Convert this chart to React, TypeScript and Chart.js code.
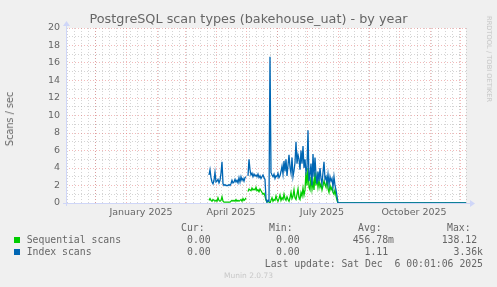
import React, { useEffect, useRef } from "react";
import { Chart, registerables } from "chart.js";

Chart.register(...registerables);

// ---------------- data ----------------
const titleText = "PostgreSQL scan types (bakehouse_uat) - by year";
const yAxisTitle = "Scans / sec";
const seriesNames = ["Sequential scans", "Index scans"];
const seriesColors = ["#00cc00", "#0066b3"];

// day offsets are counted from 2024-11-01
const dataStartDay = 144; // first daily value (2025-03-25)
const lastUpdateDay = 401; // right edge of the graph

const seqScans = [
  0.3, 0.5, 0.3, 0.2, 0.4, 0.3, 0.2, 0.3, 0.2, 0.6,
  0.3, 0.2, 0.3, 0.7, 0.2, 0.1, 0.1, 0.1, 0.1, 0.1,
  0.1, 0.1, 0.2, 0.3, 0.2, 0.3, 0.2, 0.4, 0.2, 0.3,
  0.2, 0.3, 0.4, 0.2, 0.5, 0.3, 0.4, 0.6, null, 1.3,
  1.6, 1.5, 1.4, 1.7, 1.5, 1.6, 1.5, 1.8, 1.4, 1.5,
  1.3, 1.6, 1.4, 1.2, 1.0, 1.1, 0.8, 0.3, 0.1, 0.2,
  0.1, 0.0, 0.3, 0.6, 0.2, 0.4, 0.3, 0.8, 0.4, 0.2,
  0.5, 0.9, 0.3, 0.6, 0.4, 1.0, 0.5, 0.3, 0.7, 0.4,
  0.2, 0.6, 1.2, 0.5, 0.8, 1.5, 0.6, 0.4, 1.0, 1.6,
  0.6, 0.4, 1.2, 0.8, 1.7, 0.9, 1.5, 3.5, 2.0, 4.0,
  1.8, 1.5, 3.0, 1.6, 2.5, 1.5, 3.5, 2.0, 3.0, 1.8,
  2.6, 1.8, 2.2, 1.5, 2.0, 2.5, 2.1, 1.8, 3.0, 1.6,
  1.2, 2.0, 1.5, 1.8, 1.2, 1.0, 1.5, 0.8, 0.3, 0.0,
];

const idxScans = [
  3.2, 3.8, 2.9, 2.4, 2.2, 2.6, 3.5, 2.4, 2.5, 2.7,
  2.3, 2.6, 3.4, 4.7, 2.2, 2.0, 2.1, 2.0, 2.0, 2.0,
  2.1, 2.0, 2.2, 2.6, 2.3, 2.4, 2.7, 2.4, 2.6, 2.3,
  2.9, 2.4, 3.0, 2.6, 2.8, 2.5, 2.9, 3.0, null, 3.1,
  5.0, 3.8, 3.2, 3.4, 3.0, 3.3, 3.1, 3.2, 3.0, 3.3,
  2.9, 3.1, 2.8, 3.0, 3.2, 2.9, 2.7, 0.5, 0.1, 0.3,
  0.2, 16.7, 3.5, 3.2, 3.0, 3.3, 2.8, 3.1, 3.0, 3.4,
  2.9, 3.1, 3.6, 4.2, 3.3, 4.8, 3.6, 5.0, 3.1, 4.3,
  5.5, 4.1, 3.4, 5.2, 3.0, 3.7, 4.6, 7.0, 4.5, 5.5,
  5.0, 3.8, 6.0, 4.5, 6.5, 4.0, 5.0, 3.5, 4.0, 8.3,
  2.5, 3.2, 4.5, 2.0, 5.6, 3.0, 5.2, 3.2, 2.2, 3.6,
  2.5, 4.0, 2.8, 2.2, 3.5, 4.7, 2.7, 3.0, 2.3, 3.3,
  2.1, 3.0, 2.5, 2.8, 1.8, 3.0, 2.0, 1.5, 0.8, 0.0,
];

const yMin = 0;
const yMax = 20;
const xTickLabels = ["January 2025", "April 2025", "July 2025", "October 2025"];
const xTickLabelMonths = [0, 3, 6, 9]; // months of 2025

const legendHeaders = ["Cur:", "Min:", "Avg:", "Max:"];
const curValues = ["0.00", "0.00"];
const minValues = ["0.00", "0.00"];
const avgValues = ["456.78m", "1.11"];
const maxValues = ["138.12", "3.36k"];
const lastUpdateText = "Last update: Sat Dec  6 00:01:06 2025";
const versionText = "Munin 2.0.73";
const watermarkText = "RRDTOOL / TOBI OETIKER";

// ---------------- helpers ----------------
const BASE = Date.UTC(2024, 10, 1);
const dayOf = (y: number, m: number, d: number) =>
  Math.round((Date.UTC(y, m, d) - BASE) / 864e5);

const FONT = "'DejaVu Sans', sans-serif";
const MONO = "'DejaVu Sans Mono', monospace";
const TEXT = "#666666";
const GRID_MINOR = "rgba(143,143,143,0.38)";
const GRID_MAJOR = "rgba(222,79,79,0.4)";
const AXIS = "#CFD6F8";

function buildXTicks() {
  const ticks: any[] = [];
  for (let d = 2; d <= lastUpdateDay; d += 7) ticks.push({ value: d, kind: "week" });
  for (let i = 1; i <= 13; i++) {
    const y = 2024 + Math.floor((10 + i) / 12);
    const m = (10 + i) % 12;
    ticks.push({ value: dayOf(y, m, 1), kind: "month" });
  }
  xTickLabelMonths.forEach((m, i) => {
    ticks.push({ value: dayOf(2025, m, 16), kind: "label", lbl: xTickLabels[i] });
  });
  return ticks;
}

const toPoints = (arr: (number | null)[]) => {
  const pts: any[] = arr.map((v, i) => ({ x: dataStartDay + i, y: v }));
  pts.push({ x: lastUpdateDay, y: 0 });
  return pts;
};

const muninPlugin = {
  id: "muninDecor",
  beforeDraw(chart: any) {
    const { ctx, chartArea: a } = chart;
    ctx.save();
    ctx.fillStyle = "#f0f0f0";
    ctx.fillRect(0, 0, chart.width, chart.height);
    ctx.fillStyle = "#ffffff";
    ctx.fillRect(a.left, a.top, a.right - a.left, a.bottom - a.top);
    ctx.restore();
  },
  beforeDatasetsDraw(chart: any) {
    const { ctx, chartArea: a } = chart;
    ctx.save();
    ctx.strokeStyle = AXIS;
    ctx.fillStyle = AXIS;
    ctx.lineWidth = 1;
    const yb = Math.round(a.bottom) + 0.5;
    const xl = Math.round(a.left) + 0.5;
    ctx.beginPath();
    ctx.moveTo(a.left - 3, yb);
    ctx.lineTo(a.right + 4, yb);
    ctx.moveTo(xl, a.bottom + 3);
    ctx.lineTo(xl, a.top - 2);
    ctx.stroke();
    // arrows
    ctx.beginPath();
    ctx.moveTo(a.right + 4, yb - 3.5);
    ctx.lineTo(a.right + 9, yb);
    ctx.lineTo(a.right + 4, yb + 3.5);
    ctx.closePath();
    ctx.fill();
    ctx.beginPath();
    ctx.moveTo(xl - 3.5, a.top - 2);
    ctx.lineTo(xl, a.top - 7);
    ctx.lineTo(xl + 3.5, a.top - 2);
    ctx.closePath();
    ctx.fill();
    ctx.restore();
  },
};

const abs = (extra: React.CSSProperties): React.CSSProperties => ({
  position: "absolute",
  whiteSpace: "pre",
  margin: 0,
  ...extra,
});

export default function App() {
  const canvasRef = useRef<HTMLCanvasElement>(null);

  useEffect(() => {
    document.body.style.margin = "0";
    document.body.style.background = "#f0f0f0";
    const canvas = canvasRef.current;
    if (!canvas) return;
    const chart = new Chart(canvas, {
      type: "line",
      data: {
        datasets: [
          {
            label: seriesNames[1],
            data: toPoints(idxScans),
            borderColor: seriesColors[1],
            backgroundColor: seriesColors[1],
            borderWidth: 1.3,
            pointRadius: 0,
            tension: 0,
            spanGaps: false,
            order: 0,
          },
          {
            label: seriesNames[0],
            data: toPoints(seqScans),
            borderColor: seriesColors[0],
            backgroundColor: seriesColors[0],
            borderWidth: 1.3,
            pointRadius: 0,
            tension: 0,
            spanGaps: false,
            order: 1,
          },
        ],
      },
      options: {
        animation: false,
        responsive: false,
        devicePixelRatio: 1,
        events: [],
        layout: { padding: { left: 0, top: 28, right: 31, bottom: 0 } },
        plugins: {
          legend: { display: false },
          title: { display: false },
          tooltip: { enabled: false },
        },
        scales: {
          x: {
            type: "linear",
            min: 1,
            max: lastUpdateDay,
            afterFit: (s: any) => {
              s.height = 84;
            },
            afterBuildTicks: (s: any) => {
              s.ticks = buildXTicks();
            },
            grid: {
              drawTicks: false,
              lineWidth: 1,
              color: (c: any) =>
                c.tick && c.tick.kind === "month"
                  ? GRID_MAJOR
                  : c.tick && c.tick.kind === "week"
                  ? GRID_MINOR
                  : "rgba(0,0,0,0)",
            },
            border: { display: false, dash: [1, 2] },
            ticks: {
              autoSkip: false,
              maxRotation: 0,
              minRotation: 0,
              padding: 4,
              color: TEXT,
              font: { family: FONT, size: 9.5 },
              callback: (_v: any, i: number, ticks: any[]) =>
                ticks[i] && ticks[i].lbl ? ticks[i].lbl : "",
            },
          },
          y: {
            type: "linear",
            min: yMin,
            max: yMax,
            afterFit: (s: any) => {
              s.width = 66;
            },
            grid: {
              drawTicks: false,
              lineWidth: 1,
              color: (c: any) =>
                c.tick && c.tick.value % 2 === 0 ? GRID_MAJOR : GRID_MINOR,
            },
            border: { display: false, dash: [1, 2] },
            ticks: {
              stepSize: 1,
              autoSkip: false,
              padding: 6,
              color: TEXT,
              font: { family: FONT, size: 9.5 },
              callback: (v: any) => (Number(v) % 2 === 0 ? String(v) : ""),
            },
          },
        },
      },
      plugins: [muninPlugin],
    } as any);
    return () => chart.destroy();
  }, []);

  const legendRows = [0, 1];
  const rowCenters = [239.5, 252];
  const colLeft = { cur: 187, min: 276 };

  return (
    <div
      style={{
        position: "relative",
        width: 497,
        height: 287,
        background: "#f0f0f0",
        overflow: "hidden",
        fontFamily: FONT,
        color: TEXT,
      }}
    >
      <canvas
        ref={canvasRef}
        width={497}
        height={287}
        style={{ position: "absolute", left: 0, top: 0, width: 497, height: 287 }}
      />
      <div
        style={abs({
          left: 0,
          width: 497,
          top: 11,
          textAlign: "center",
          font: `12.8px ${FONT}`,
          lineHeight: "16px",
          color: TEXT,
        })}
      >
        {titleText}
      </div>
      <div
        style={abs({
          left: 10,
          top: 119,
          transform: "translate(-50%, -50%) rotate(-90deg)",
          font: `9.7px ${FONT}`,
          lineHeight: "12px",
          color: TEXT,
        })}
      >
        {yAxisTitle}
      </div>
      <div
        style={abs({
          left: 488.5,
          top: 58.5,
          transform: "translate(-50%, -50%) rotate(90deg)",
          font: `6.7px ${FONT}`,
          lineHeight: "8px",
          color: "#c4c4c4",
        })}
      >
        {watermarkText}
      </div>

      {legendHeaders.map((h, i) => (
        <div
          key={h}
          style={abs({
            left: [181, 269, 358, 447][i],
            top: 227.7 - 6,
            font: `9.8px ${MONO}`,
            lineHeight: "12px",
          })}
        >
          {h}
        </div>
      ))}

      {legendRows.map((r) => (
        <React.Fragment key={r}>
          <div
            style={{
              position: "absolute",
              left: 14,
              top: rowCenters[r] - 3,
              width: 6,
              height: 6,
              background: seriesColors[r],
            }}
          />
          <div style={abs({ left: 26.7, top: rowCenters[r] - 6, font: `9.8px ${MONO}`, lineHeight: "12px" })}>
            {seriesNames[r]}
          </div>
          <div style={abs({ left: colLeft.cur, top: rowCenters[r] - 6, font: `9.8px ${MONO}`, lineHeight: "12px" })}>
            {curValues[r]}
          </div>
          <div style={abs({ left: colLeft.min, top: rowCenters[r] - 6, font: `9.8px ${MONO}`, lineHeight: "12px" })}>
            {minValues[r]}
          </div>
          <div style={abs({ right: 497 - 394, top: rowCenters[r] - 6, font: `9.8px ${MONO}`, lineHeight: "12px", textAlign: "right" })}>
            {avgValues[r] + (r === 1 ? " " : "")}
          </div>
          <div style={abs({ right: 497 - 483, top: rowCenters[r] - 6, font: `9.8px ${MONO}`, lineHeight: "12px", textAlign: "right" })}>
            {maxValues[r] + (r === 0 ? " " : "")}
          </div>
        </React.Fragment>
      ))}

      <div
        style={abs({
          right: 497 - 483,
          top: 263.6 - 6,
          font: `9.8px ${MONO}`,
          lineHeight: "12px",
          textAlign: "right",
        })}
      >
        {lastUpdateText}
      </div>
      <div
        style={abs({
          left: 0,
          width: 497,
          top: 276.3 - 5,
          textAlign: "center",
          font: `7.5px ${FONT}`,
          lineHeight: "10px",
          color: "#c8c8c8",
        })}
      >
        {versionText}
      </div>
    </div>
  );
}
